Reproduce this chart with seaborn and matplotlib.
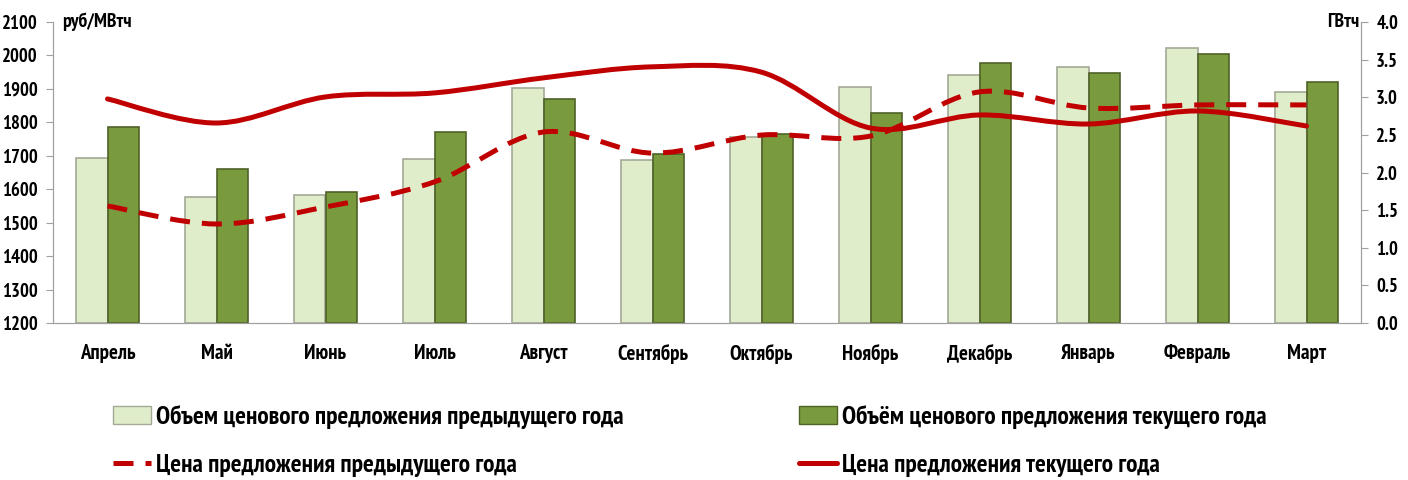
import numpy as np
import pandas as pd
import matplotlib
matplotlib.use("Agg")
import matplotlib.pyplot as plt
import seaborn as sns
from matplotlib.path import Path
from matplotlib.patches import PathPatch, Patch
from matplotlib.lines import Line2D

# ---- Data ----
months = ["Апрель", "Май", "Июнь", "Июль", "Август", "Сентябрь",
          "Октябрь", "Ноябрь", "Декабрь", "Январь", "Февраль", "Март"]

# volume of price offer, GWh (right axis)
vol_prev = [2.19, 1.67, 1.70, 2.18, 3.12, 2.17, 2.47, 3.14, 3.30, 3.40, 3.65, 3.07]
vol_cur = [2.60, 2.05, 1.74, 2.54, 2.98, 2.25, 2.51, 2.79, 3.45, 3.32, 3.58, 3.20]

# offer price, rub/MWh (left axis)
price_prev = [1550, 1496, 1547, 1622, 1771, 1708, 1762, 1759, 1891, 1843, 1852, 1852]
price_cur = [1870, 1798, 1876, 1888, 1933, 1966, 1950, 1783, 1822, 1795, 1834, 1789]

lbl_vol_prev = "Объем ценового предложения предыдущего года"
lbl_vol_cur = "Объём ценового предложения текущего года"
lbl_price_prev = "Цена предложения предыдущего года"
lbl_price_cur = "Цена предложения текущего года"

c_prev = "#e0edcb"
c_cur = "#7a9a3e"
c_red = "#c00000"


def smooth_path(xs, ys):
    # Excel-like smoothed line: Catmull-Rom segments as cubic Bezier
    pts = np.column_stack([xs, ys]).astype(float)
    n = len(pts)
    verts = [pts[0]]
    codes = [Path.MOVETO]
    for i in range(n - 1):
        p0 = pts[max(i - 1, 0)]
        p1 = pts[i]
        p2 = pts[i + 1]
        p3 = pts[min(i + 2, n - 1)]
        verts += [p1 + (p2 - p0) / 6, p2 - (p3 - p1) / 6, p2]
        codes += [Path.CURVE4] * 3
    return Path(verts, codes)


def main():
    sns.set_style("white")
    plt.rcParams["font.family"] = ["PT Sans Narrow", "DejaVu Sans"]
    plt.rcParams["font.weight"] = "bold"
    plt.rcParams["text.color"] = "black"
    plt.rcParams["xtick.color"] = "black"
    plt.rcParams["ytick.color"] = "black"

    df = pd.DataFrame({
        "month": months * 2,
        "series": [lbl_vol_prev] * 12 + [lbl_vol_cur] * 12,
        "value": vol_prev + vol_cur,
    })

    fig = plt.figure(figsize=(14.08, 4.8), dpi=100)
    ax = fig.add_axes([53 / 1408, 1 - 323 / 480, (1361 - 53) / 1408, 301 / 480])
    ax2 = ax.twinx()

    sns.barplot(data=df, x="month", y="value", hue="series", order=months,
                hue_order=[lbl_vol_prev, lbl_vol_cur], palette=[c_prev, c_cur],
                width=0.57, saturation=1, ax=ax2, legend=False, linewidth=1.2)
    for bar, col in zip(ax2.patches, [c_prev] * 12 + [c_cur] * 12):
        bar.set_edgecolor("#a3a996" if col == c_prev else "#4f6228")

    # lines on the left axis, drawn above the bars
    ax.set_zorder(ax2.get_zorder() + 1)
    ax.patch.set_visible(False)
    x = np.arange(len(months))
    ax.add_patch(PathPatch(smooth_path(x, price_prev), fill=False, edgecolor=c_red,
                           lw=3.6, linestyle=(0, (4, 2.4))))
    ax.add_patch(PathPatch(smooth_path(x, price_cur), fill=False, edgecolor=c_red,
                           lw=3.6, capstyle="round"))

    ax.set_xlim(-0.5, 11.5)
    ax.set_ylim(1200, 2100)
    ax2.set_ylim(0, 4.0)
    ax.set_yticks(np.arange(1200, 2101, 100))
    ax2.set_yticks(np.arange(0, 4.01, 0.5))
    ax2.set_yticklabels([f"{v:.1f}" for v in np.arange(0, 4.01, 0.5)])
    ax.set_xticks(x)
    ax.set_xticklabels(months)
    ax.set_xticks(np.arange(-0.5, 12, 1), minor=True)
    ax.tick_params(axis="x", which="major", length=0, pad=15, labelsize=15)
    ax.tick_params(axis="x", which="minor", length=6, color="#a0a0a0", direction="out")
    ax.tick_params(axis="y", length=5, color="#a0a0a0", labelsize=13.5, pad=6)
    ax2.tick_params(axis="y", length=5, color="#a0a0a0", labelsize=13.5, pad=6)
    for a in (ax, ax2):
        a.set_xlabel("")
        a.set_ylabel("")
        for s in a.spines.values():
            s.set_color("#a0a0a0")
        a.spines["top"].set_visible(False)

    ax.text(0.007, 1.0, "руб/МВтч", transform=ax.transAxes, ha="left", va="center",
            fontsize=14, fontweight="bold")
    ax.text(0.999, 1.0, "ГВтч", transform=ax.transAxes, ha="right", va="center",
            fontsize=14, fontweight="bold")

    handles = [
        Patch(facecolor=c_prev, edgecolor="#a3a996"),
        Line2D([], [], color=c_red, lw=3.6, linestyle=(0, (4, 2.4))),
        Patch(facecolor=c_cur, edgecolor="#4f6228"),
        Line2D([], [], color=c_red, lw=3.6),
    ]
    labels = [lbl_vol_prev, lbl_price_prev, lbl_vol_cur, lbl_price_cur]
    fig.legend(handles, labels, ncol=2, loc="center left",
               bbox_to_anchor=(113 / 1408, 1 - 441 / 480), frameon=False,
               borderpad=0, borderaxespad=0,
               fontsize=18.3, handlelength=1.5, handleheight=0.7, handletextpad=0.2,
               columnspacing=6.9, labelspacing=1.0)

    fig.savefig("out.png", dpi=100)
    plt.close(fig)


if __name__ == "__main__":
    main()
